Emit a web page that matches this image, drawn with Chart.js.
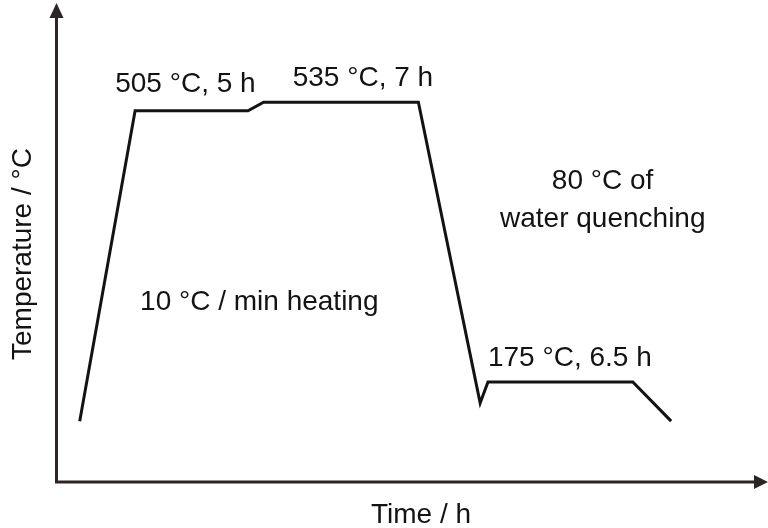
<!DOCTYPE html>
<html>
<head>
<meta charset="utf-8">
<script src="https://cdn.jsdelivr.net/npm/chart.js@4/dist/chart.umd.min.js"></script>
<style>
  html, body { margin: 0; padding: 0; background: #ffffff; }
  #wrap { width: 768px; height: 528px; }
</style>
</head>
<body>
<div id="wrap"><canvas id="c" width="768" height="528"></canvas></div>
<script>
// Schematic heat-treatment profile (arbitrary units)
const timeValues = [3.2, 11.0, 26.9, 29.1, 50.9, 59.6, 60.7, 81.1, 86.5];
const tempValues = [12.7, 77.5, 77.5, 79.3, 79.3, 16.5, 20.9, 20.9, 12.7];

const xTitle = 'Time / h';
const yTitle = 'Temperature / °C';

const noteTexts = [
  '505 °C, 5 h',
  '535 °C, 7 h',
  '10 °C / min heating',
  '80 °C of',
  'water quenching',
  '175 °C, 6.5 h'
];
// anchor (left, baseline) of each note, in data units
const noteX = [8.2, 33.2, 11.7, 69.7, 62.4, 60.7];
const noteY = [81.4, 82.7, 35.9, 61.2, 53.2, 24.2];

const FONT = '28px "Liberation Sans", Arial, sans-serif';
const INK = '#141212';
const AXIS = '#2b2523';

const decor = {
  id: 'decor',
  afterDraw(chart) {
    const ctx = chart.ctx;
    const a = chart.chartArea;
    const xs = chart.scales.x, ys = chart.scales.y;
    ctx.save();
    // axes
    ctx.strokeStyle = AXIS;
    ctx.fillStyle = AXIS;
    ctx.lineWidth = 3;
    ctx.lineCap = 'butt';
    ctx.beginPath();
    ctx.moveTo(a.left - 0.5, a.bottom);
    ctx.lineTo(a.left - 0.5, a.top + 12);
    ctx.moveTo(a.left - 2, a.bottom);
    ctx.lineTo(a.right - 12, a.bottom);
    ctx.stroke();
    // arrow heads
    ctx.beginPath();
    ctx.moveTo(a.left - 0.5, a.top);
    ctx.lineTo(a.left - 7.5, a.top + 15);
    ctx.lineTo(a.left + 6.5, a.top + 15);
    ctx.closePath();
    ctx.fill();
    ctx.beginPath();
    ctx.moveTo(a.right + 1, a.bottom);
    ctx.lineTo(a.right - 13, a.bottom - 7);
    ctx.lineTo(a.right - 13, a.bottom + 7);
    ctx.closePath();
    ctx.fill();

    // notes
    ctx.fillStyle = INK;
    ctx.font = FONT;
    ctx.textAlign = 'left';
    ctx.textBaseline = 'alphabetic';
    noteTexts.forEach((t, i) => {
      ctx.fillText(t, xs.getPixelForValue(noteX[i]), ys.getPixelForValue(noteY[i]));
    });

    // axis titles
    ctx.font = '28px "Liberation Sans", Arial, sans-serif';
    ctx.fillText(xTitle, 371, 523);
    ctx.save();
    ctx.translate(31, 360);
    ctx.rotate(-Math.PI / 2);
    ctx.fillText(yTitle, 0, 0);
    ctx.restore();
    ctx.restore();
  }
};

new Chart(document.getElementById('c'), {
  type: 'line',
  data: {
    labels: timeValues,
    datasets: [{
      data: timeValues.map((t, i) => ({ x: t, y: tempValues[i] })),
      borderColor: INK,
      borderWidth: 3,
      pointRadius: 0,
      tension: 0,
      fill: false,
      borderJoinStyle: 'miter'
    }]
  },
  options: {
    responsive: false,
    animation: false,
    devicePixelRatio: 1,
    layout: { padding: { left: 57, right: 1, top: 3, bottom: 46 } },
    plugins: { legend: { display: false }, tooltip: { enabled: false } },
    scales: {
      x: { type: 'linear', min: 0, max: 100, display: false },
      y: { type: 'linear', min: 0, max: 100, display: false }
    }
  },
  plugins: [decor]
});
</script>
</body>
</html>
